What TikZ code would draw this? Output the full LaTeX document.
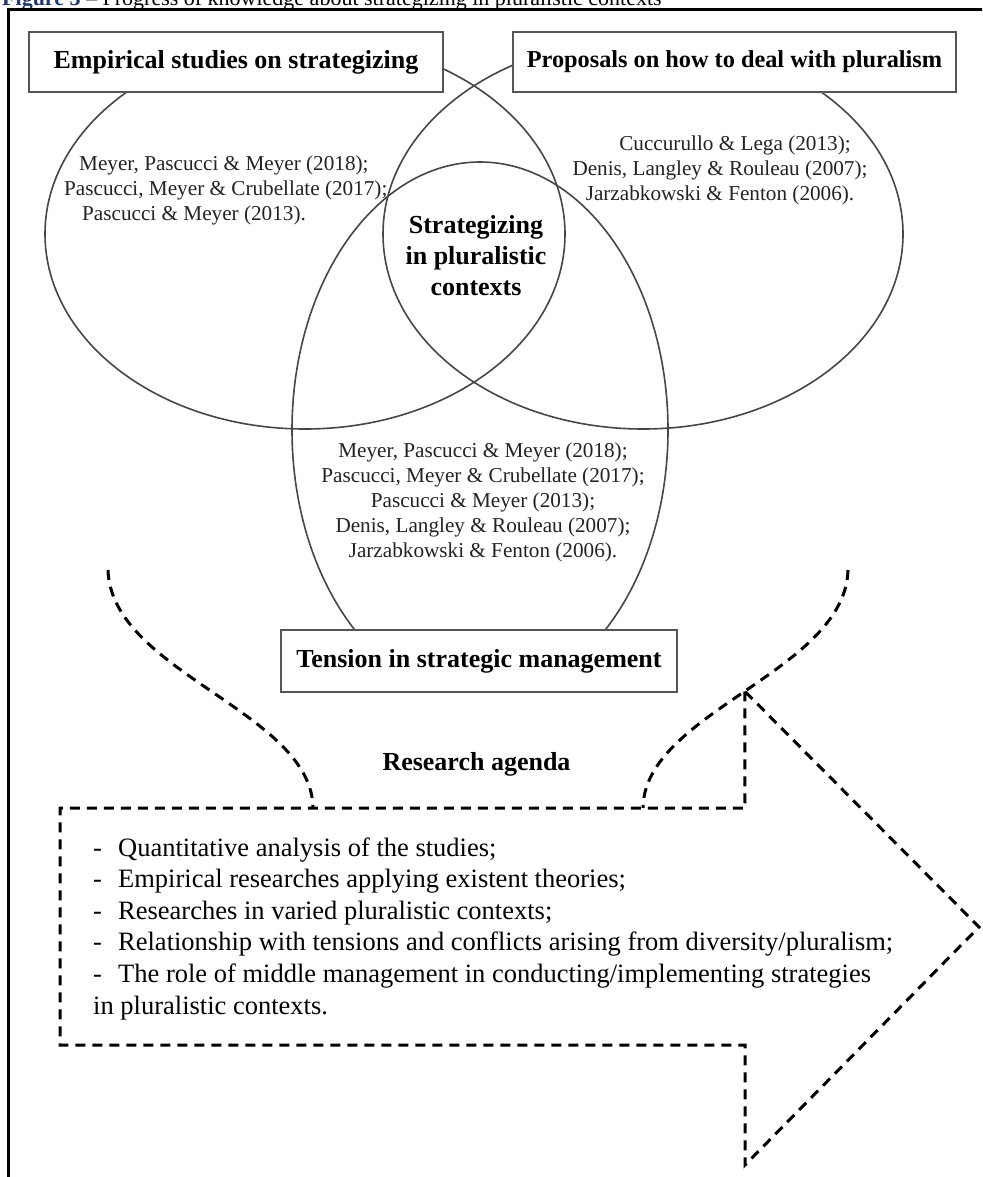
\documentclass[tikz,border=0pt]{standalone}
\usepackage{fontspec}
\setmainfont{Liberation Serif}
\definecolor{capblue}{RGB}{31,56,110}
\definecolor{linegray}{RGB}{70,70,70}
\definecolor{boxgray}{RGB}{85,85,85}
\definecolor{txt}{RGB}{35,35,35}
\tikzset{
  lbl/.style={draw=boxgray, line width=1.8pt, fill=white, inner sep=0pt,
    text=black, font=\bfseries\fontsize{26}{31}\selectfont},
  vset/.style={draw=linegray, line width=1.6pt},
  dashline/.style={draw=black, line width=3pt, dash pattern=on 10pt off 7pt},
  refs/.style={inner sep=0pt, text=txt, font=\fontsize{21.2}{25}\selectfont},
  item/.style={inner sep=0pt, anchor=base west, text=black, font=\fontsize{26.5}{31.6}\selectfont},
  hd/.style={inner sep=0pt, text=black, font=\bfseries\fontsize{26}{31}\selectfont}
}
\begin{document}
\begin{tikzpicture}[x=1pt,y=-1pt]
\useasboundingbox (0,0) rectangle (982,1177);
\clip (0,0) rectangle (982,1177);
\fill[white] (0,0) rectangle (982,1177);

% caption (cut off at the top, as in the reference)
\node[inner sep=0pt, anchor=base west, font=\fontsize{22}{26}\selectfont] (cap) at (2,6)
  {\textcolor{capblue}{\bfseries Figure 3} -- Progress of knowledge about strategizing in pluralistic contexts};

% frame
\draw[line width=3pt] (8,1180) -- (8,10) -- (985,10);

% Venn ellipses
\draw[vset] (305,234) ellipse [x radius=260pt, y radius=195pt];
\draw[vset] (643,234) ellipse [x radius=260pt, y radius=195pt];
\begin{scope}
  \clip (0,0) rectangle (982,632);
  \draw[vset] (480,430) ellipse [x radius=188pt, y radius=268pt];
\end{scope}

% boxes
\node[lbl, minimum width=414pt, minimum height=60pt] (emp) at (236,62) {Empirical studies on strategizing};
\node[lbl, minimum width=443pt, minimum height=60pt, font=\bfseries\fontsize{24.3}{29}\selectfont] (prop) at (734.5,62) {Proposals on how to deal with pluralism};
\node[lbl, minimum width=396pt, minimum height=62pt] (tens) at (479,661) {Tension in strategic management};

% texts in ellipses
\node[refs, align=left, anchor=west] (lefttxt) at (64,190)
  {\hspace*{15pt}Meyer, Pascucci \& Meyer (2018);\\
   Pascucci, Meyer \& Crubellate (2017);\\
   \hspace*{18pt}Pascucci \& Meyer (2013).};
\node[refs, align=center] (righttxt) at (720,170)
  {\hspace*{30pt}Cuccurullo \& Lega (2013);\\
   Denis, Langley \& Rouleau (2007);\\
   Jarzabkowski \& Fenton (2006).};
\node[hd, align=center] (core) at (476,256) {Strategizing\\in pluralistic\\contexts};
\node[refs, align=center] (bottxt) at (483,502)
  {Meyer, Pascucci \& Meyer (2018);\\
   Pascucci, Meyer \& Crubellate (2017);\\
   Pascucci \& Meyer (2013);\\
   Denis, Langley \& Rouleau (2007);\\
   Jarzabkowski \& Fenton (2006).};

% dashed curves
\coordinate (lt) at (108,570);
\coordinate (lb) at (313,808);
\coordinate (rt) at (848,570);
\coordinate (rb) at (643,808);
\draw[dashline] (lt) .. controls (111,672) and (312,712) .. (lb);
\draw[dashline] (rt) .. controls (845,672) and (644,712) .. (rb) coordinate[pos=0.5] (notch);

% arrow
\coordinate (a1) at (745,808);
\coordinate (a2) at (60,808);
\coordinate (a3) at (60,1045);
\coordinate (a4) at (745,1045);
\coordinate (a5) at (745,1165);
\coordinate (tip) at (979,927);
\draw[dashline, line join=miter] (notch) -- (a1) -- (a2) -- (a3) -- (a4) -- (a5) -- (tip) -- cycle;

% research agenda
\node[hd] (ra) at (476.5,764) {Research agenda};
\node[item] (i1) at (93,856) {\makebox[25pt][l]{-}Quantitative analysis of the studies;};
\node[item] (i2) at (93,887.6) {\makebox[25pt][l]{-}Empirical researches applying existent theories;};
\node[item] (i3) at (93,919.2) {\makebox[25pt][l]{-}Researches in varied pluralistic contexts;};
\node[item] (i4) at (93,950.8) {\makebox[25pt][l]{-}Relationship with tensions and conflicts arising from diversity/pluralism;};
\node[item] (i5) at (93,982.4) {\makebox[25pt][l]{-}The role of middle management in conducting/implementing strategies};
\node[item] (i6) at (93,1014) {in pluralistic contexts.};
\end{tikzpicture}
\end{document}
